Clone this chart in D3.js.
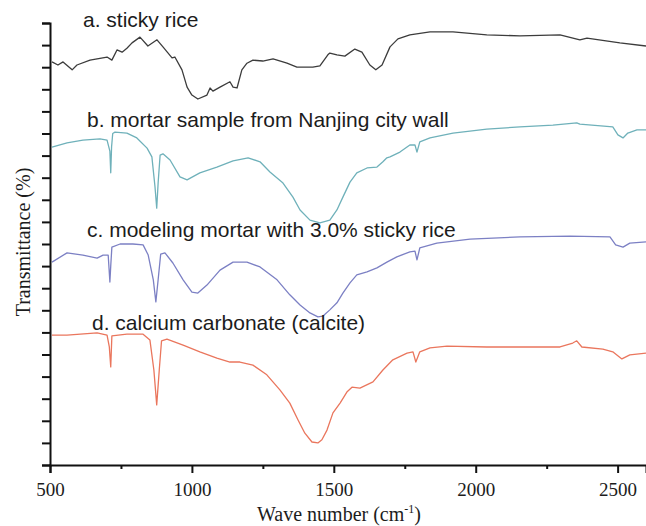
<!DOCTYPE html>
<html><head><meta charset="utf-8">
<script src="https://cdn.jsdelivr.net/npm/d3@7"></script>
<style>html,body{margin:0;padding:0;background:#fff;}svg{display:block;}
.serif{font-family:"Liberation Serif","Times New Roman",serif;}
.sans{font-family:"Liberation Sans",Arial,sans-serif;}
</style>
</head><body>
<script>
// [wave number (cm-1), transmittance (arbitrary %, stacked)]
const stickyRice = [[507,91.2],[528,90.5],[546,91.2],[578,89.4],[595,90.5],[641,91.6],[701,92.3],[718,91.6],[736,93.9],[754,93.4],[771,94.3],[789,95.5],[817,96.8],[845,94.8],[877,96.2],[898,94.6],[930,92.1],[940,92.3],[965,89.4],[983,85.5],[1000,83.7],[1021,82.8],[1053,83.7],[1064,85.3],[1074,84.6],[1099,85.5],[1134,86.7],[1145,85.5],[1159,85.3],[1176,89.4],[1194,90.9],[1215,91.6],[1250,91.4],[1286,91.9],[1335,90.9],[1370,90.0],[1426,90.0],[1451,90.3],[1479,92.8],[1486,93.2],[1511,92.8],[1539,92.5],[1574,94.1],[1599,93.4],[1627,90.5],[1648,89.4],[1670,90.5],[1698,94.6],[1726,96.4],[1768,97.3],[1839,98.0],[1920,98.0],[2039,97.3],[2156,97.1],[2297,97.3],[2367,96.2],[2392,96.6],[2508,95.5],[2600,94.8]];
const nanjingMortar = [[507,71.9],[560,72.9],[616,73.5],[676,73.8],[701,73.5],[711,71.0],[714,66.1],[717,72.0],[721,75.0],[729,75.3],[771,75.1],[806,74.0],[842,71.7],[859,69.7],[870,62.9],[876,58.1],[881,63.8],[888,70.1],[898,70.4],[923,69.0],[958,65.2],[983,64.5],[1028,66.1],[1088,67.4],[1145,68.8],[1198,69.5],[1240,68.6],[1275,66.3],[1321,63.8],[1356,60.6],[1381,57.7],[1416,55.4],[1451,54.8],[1486,55.4],[1511,57.7],[1532,60.6],[1557,64.0],[1581,66.1],[1617,67.2],[1652,67.4],[1673,68.6],[1687,69.5],[1698,69.7],[1733,70.8],[1768,72.4],[1786,72.4],[1793,70.8],[1803,73.1],[1839,74.0],[1920,75.1],[2039,76.0],[2156,76.5],[2272,76.9],[2356,77.4],[2367,77.1],[2483,76.5],[2501,74.7],[2519,74.0],[2536,75.1],[2568,75.8],[2600,75.8]];
const modelMortar = [[507,45.9],[560,48.0],[616,47.5],[666,46.8],[687,47.5],[705,47.5],[711,41.4],[714,45.0],[718,49.3],[747,50.0],[792,50.0],[828,49.8],[846,47.5],[864,41.9],[873,36.9],[881,41.9],[890,47.7],[905,48.0],[933,45.7],[969,41.9],[1000,39.1],[1021,38.9],[1053,40.7],[1099,44.1],[1145,45.9],[1194,45.9],[1240,44.8],[1300,41.9],[1345,38.5],[1381,36.2],[1416,34.4],[1444,33.5],[1462,33.7],[1486,35.1],[1511,36.7],[1532,38.9],[1557,41.2],[1581,43.0],[1617,43.7],[1652,44.6],[1687,45.9],[1722,47.1],[1768,48.2],[1786,48.4],[1793,46.4],[1803,49.1],[1863,50.2],[1980,51.1],[2156,51.6],[2332,51.8],[2473,51.6],[2493,49.8],[2519,49.3],[2543,50.2],[2600,50.5]];
const calcite = [[507,29.4],[560,29.4],[666,29.9],[701,29.4],[709,26.7],[714,22.2],[718,29.2],[771,29.6],[828,29.6],[852,28.3],[866,21.5],[876,13.6],[885,21.5],[893,28.1],[912,28.5],[969,27.1],[1028,25.6],[1088,24.2],[1134,23.3],[1169,23.3],[1215,22.6],[1264,20.4],[1310,17.0],[1345,14.0],[1374,10.2],[1398,7.2],[1423,5.2],[1444,5.0],[1458,5.7],[1476,7.9],[1497,11.8],[1522,14.0],[1546,16.5],[1564,17.6],[1592,17.4],[1638,18.8],[1673,21.5],[1708,23.8],[1758,25.3],[1779,25.6],[1789,23.3],[1803,25.6],[1839,26.5],[1899,26.9],[2039,26.7],[2297,26.7],[2342,27.6],[2356,28.1],[2374,26.7],[2448,26.2],[2483,25.6],[2515,24.0],[2543,24.9],[2600,25.3]];

const seriesLabels = ["a. sticky rice","b. mortar sample from Nanjing city wall","c. modeling mortar with 3.0% sticky rice","d. calcium carbonate (calcite)"];
const seriesColors = ["#3c3c3c","#6fb1ba","#7c80c4","#ea765d"];
const xMajorTicks = [500,1000,1500,2000,2500];
const xMinorTicks = [750,1250,1750,2250];
const yTicks = d3.range(0,101,5);
const xTitle = "Wave number (cm";
const yTitle = "Transmittance (%)";

const W = 646, H = 526;
const svg = d3.select("body").append("svg").attr("width",W).attr("height",H);
svg.append("rect").attr("width",W).attr("height",H).attr("fill","#fff");

const x = d3.scaleLinear().domain([500,2600]).range([50,646]);
const y = d3.scaleLinear().domain([0,100]).range([465,23]);

const series = [stickyRice, nanjingMortar, modelMortar, calcite];
const line = d3.line().x(d=>x(d[0])).y(d=>y(d[1]));
series.forEach((s,i)=>{
  svg.append("path").attr("d",line(s)).attr("fill","none")
    .attr("stroke",seriesColors[i]).attr("stroke-width",1.3).attr("stroke-linejoin","round");
});

// series labels
const labelPos = [[83,27],[87,127],[87,237],[92,330]];
seriesLabels.forEach((t,i)=>{
  svg.append("text").attr("class","sans").attr("x",labelPos[i][0]).attr("y",labelPos[i][1])
    .style("font-size","21px").attr("fill","#1c1c1c").text(t);
});

// axes
const xAxis = svg.append("g").attr("transform","translate(0,465)")
  .call(d3.axisBottom(x).tickValues(xMajorTicks).tickSize(8).tickPadding(10).tickFormat(d3.format("d")));
svg.append("g").attr("transform","translate(0,465)")
  .call(d3.axisBottom(x).tickValues(xMinorTicks).tickSize(4).tickFormat(""))
  .call(g=>g.select(".domain").remove());
svg.append("g").attr("transform","translate(50,0)")
  .call(d3.axisLeft(y).tickValues(yTicks).tickSize(8).tickFormat(""));
svg.selectAll(".domain").attr("stroke","#111").attr("stroke-width",2);
svg.selectAll(".tick line").attr("stroke","#111").attr("stroke-width",2);
xAxis.selectAll(".tick text").attr("class","serif")
  .style("font-family","'Liberation Serif','Times New Roman',serif").style("font-size","19px").attr("fill","#1c1c1c");

// axis titles
const xt = svg.append("text").attr("class","serif").attr("x",339).attr("y",521).attr("text-anchor","middle")
  .style("font-size","20px").attr("fill","#1c1c1c");
xt.append("tspan").text(xTitle);
xt.append("tspan").attr("dy",-8).style("font-size","12px").text("-1");
xt.append("tspan").attr("dy",8).text(")");
svg.append("text").attr("class","serif").attr("transform","translate(30,242) rotate(-90)").attr("text-anchor","middle")
  .style("font-size","20px").attr("fill","#1c1c1c").text(yTitle);
</script>
</body></html>
